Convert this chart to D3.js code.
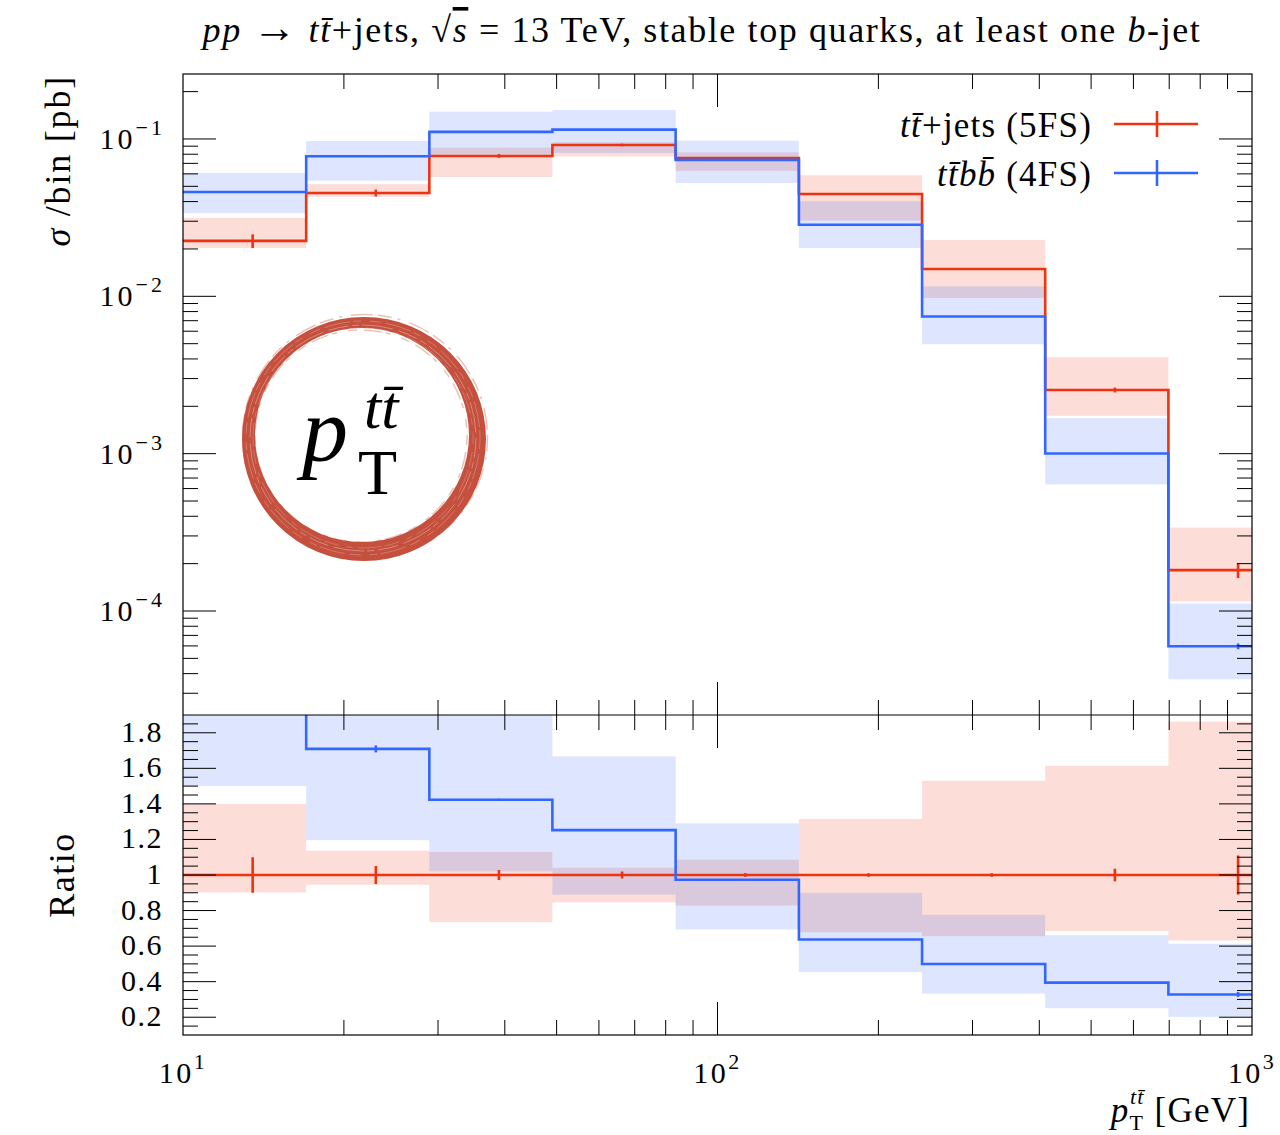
<!DOCTYPE html>
<html lang="en">
<head>
<meta charset="UTF-8" />
<title>ttbar pT: tt+jets (5FS) vs ttbb (4FS)</title>
<script src="https://d3js.org/d3.v7.min.js"></script>
<style>
  body { margin: 0; background: #fff; }
  svg { display: block; font-family: "Liberation Serif", "DejaVu Serif", serif; }
  .frame { fill: none; stroke: #000; stroke-width: 1.2; }
  .tick { stroke: #000; stroke-width: 1; }
</style>
</head>
<body>
<div id="chart"></div>
<script>
// ---------------------------------------------------------------
// Data
// ---------------------------------------------------------------
// bin edges in GeV, last bin runs past the 1 TeV end of the axis
const binEdges = [10, 17, 28.9, 49.1, 83.5, 142, 241.4, 410.3, 697.6, 1185.9];

// tt+jets (5FS), sigma/bin in pb
const ttjVal    = [0.0225, 0.0454, 0.078, 0.0916, 0.0757, 0.0447, 0.0149, 0.00254, 0.000182];
const ttjBandHi = [0.0315, 0.0516, 0.0881, 0.0953, 0.0822, 0.0588, 0.0228, 0.0041, 0.000339];
const ttjBandLo = [0.0203, 0.0429, 0.0573, 0.0775, 0.0627, 0.0303, 0.00977, 0.00174, 0.000115];
const ttjErr    = [0.00225, 0.0023, 0.0022, 0.0018, 0.0008, 0.00045, 0.00015, 0.00009, 0.00002];

// ttbb (4FS)
const ttbbVal    = [0.046, 0.0776, 0.111, 0.1147, 0.0737, 0.0285, 0.00744, 0.001003, 0.0000597];
const ttbbBandHi = [0.0608, 0.0971, 0.149, 0.1527, 0.0977, 0.0402, 0.01156, 0.00168, 0.0001116];
const ttbbBandLo = [0.03375, 0.0543, 0.0796, 0.0815, 0.0525, 0.0203, 0.00496, 0.000638, 0.0000368];
const ttbbErr    = [0.0006, 0.0009, 0.0005, 0.0004, 0.0003, 0.0001, 0.00003, 0.000006, 0.0000025];

// tick labels
const xTickLabels = [[10, "1"], [100, "2"], [1000, "3"]];
const yTickLabels = [[0.1, "\u22121"], [0.01, "\u22122"], [0.001, "\u22123"], [0.0001, "\u22124"]];
const ratioTickLabels = [1.8, 1.6, 1.4, 1.2, 1, 0.8, 0.6, 0.4, 0.2];

// ---------------------------------------------------------------
// Layout
// ---------------------------------------------------------------
const W = 1280, H = 1135;
const left = 183, right = 1252;
const mainTop = 74, mainBottom = 715, ratioBottom = 1035;
const majorLen = 33, minorLen = 15;

const RED = "#EE3311", BLUE = "#3366FF";
const bandOpacity = 0.17;

const x = d3.scaleLog().domain([10, 1000]).range([left, right]);
const y = d3.scaleLog().domain([2.183e-5, 0.2588]).range([mainBottom, mainTop]);
const yr = d3.scaleLinear().domain([0.1, 1.9]).range([ratioBottom, mainBottom]);

const svg = d3.select("#chart").append("svg")
  .attr("width", W).attr("height", H);

const defs = svg.append("defs");
defs.append("clipPath").attr("id", "clip-main")
  .append("rect").attr("x", left).attr("y", mainTop)
  .attr("width", right - left).attr("height", mainBottom - mainTop);
defs.append("clipPath").attr("id", "clip-ratio")
  .append("rect").attr("x", left).attr("y", mainBottom)
  .attr("width", right - left).attr("height", ratioBottom - mainBottom);

const nBins = binEdges.length - 1;
const bins = d3.range(nBins).map(i => ({
  lo: binEdges[i], hi: binEdges[i + 1], mid: (binEdges[i] + binEdges[i + 1]) / 2
}));

function series(val, bandLo, bandHi, err, ref) {
  return bins.map((b, i) => {
    const s = ref ? ref[i] : 1;
    return {
      lo: b.lo, hi: b.hi, mid: b.mid,
      v: val[i] / s, bl: bandLo[i] / s, bh: bandHi[i] / s,
      e1: (val[i] - err[i]) / s, e2: (val[i] + err[i]) / s
    };
  });
}

const seriesList = [
  { color: RED,  val: ttjVal,  lo: ttjBandLo,  hi: ttjBandHi,  err: ttjErr },
  { color: BLUE, val: ttbbVal, lo: ttbbBandLo, hi: ttbbBandHi, err: ttbbErr }
];

// ---------------------------------------------------------------
// Draw one panel (bands, step lines, error ticks)
// ---------------------------------------------------------------
function drawPanel(clipId, ys, ratio) {
  const g = svg.append("g").attr("clip-path", `url(#${clipId})`);
  const data = seriesList.map(s => ({
    color: s.color,
    pts: series(s.val, s.lo, s.hi, s.err, ratio ? ttjVal : null)
  }));

  data.forEach(s => {
    g.selectAll(null).data(s.pts).enter().append("rect")
      .attr("x", d => x(d.lo))
      .attr("width", d => x(d.hi) - x(d.lo))
      .attr("y", d => ys(d.bh))
      .attr("height", d => ys(d.bl) - ys(d.bh))
      .attr("fill", s.color)
      .attr("fill-opacity", bandOpacity);
  });

  data.forEach(s => {
    const stepPts = s.pts.map(d => [d.lo, d.v]);
    stepPts.push([s.pts[nBins - 1].hi, s.pts[nBins - 1].v]);
    const line = d3.line()
      .x(d => x(d[0]))
      .y(d => ys(d[1]))
      .curve(d3.curveStepAfter);
    g.append("path")
      .attr("d", line(stepPts))
      .attr("fill", "none")
      .attr("stroke", s.color)
      .attr("stroke-width", 2.6);

    g.selectAll(null).data(s.pts).enter().append("line")
      .attr("x1", d => x(d.mid)).attr("x2", d => x(d.mid))
      .attr("y1", d => ys(d.e2))
      .attr("y2", d => ys(d.e1))
      .attr("stroke", s.color)
      .attr("stroke-width", 2.6);
  });
}

drawPanel("clip-main", y, false);
drawPanel("clip-ratio", yr, true);

// ---------------------------------------------------------------
// Frames and ticks
// ---------------------------------------------------------------
svg.append("rect").attr("class", "frame")
  .attr("x", left).attr("y", mainTop)
  .attr("width", right - left).attr("height", ratioBottom - mainTop);
svg.append("line").attr("class", "tick")
  .attr("x1", left).attr("x2", right)
  .attr("y1", mainBottom).attr("y2", mainBottom);

const ticksG = svg.append("g");
const isDecade = v => Math.abs(Math.log10(v) - Math.round(Math.log10(v))) < 1e-9;

// x ticks on every horizontal edge, pointing into the panels
const xTicks = x.ticks().filter(v => v > 10 && v < 1000);
[[mainTop, 1], [mainBottom, -1], [mainBottom, 1], [ratioBottom, -1]].forEach(([yy, dir]) => {
  ticksG.selectAll(null).data(xTicks).enter().append("line")
    .attr("class", "tick")
    .attr("x1", d => x(d)).attr("x2", d => x(d))
    .attr("y1", yy).attr("y2", d => yy + dir * (isDecade(d) ? majorLen : minorLen));
});

// main y ticks
const yTicks = y.ticks().filter(v => v > y.domain()[0] && v < y.domain()[1]);
[[left, 1], [right, -1]].forEach(([xx, dir]) => {
  ticksG.selectAll(null).data(yTicks).enter().append("line")
    .attr("class", "tick")
    .attr("y1", d => y(d)).attr("y2", d => y(d))
    .attr("x1", xx).attr("x2", d => xx + dir * (isDecade(d) ? majorLen : minorLen));
});

// ratio y ticks
const rTicks = d3.range(3, 38).map(k => k * 0.05);
const isMajorR = v => Math.abs(v / 0.2 - Math.round(v / 0.2)) < 1e-6;
[[left, 1], [right, -1]].forEach(([xx, dir]) => {
  ticksG.selectAll(null).data(rTicks).enter().append("line")
    .attr("class", "tick")
    .attr("y1", d => yr(d)).attr("y2", d => yr(d))
    .attr("x1", xx).attr("x2", d => xx + dir * (isMajorR(d) ? majorLen : minorLen));
});

// ---------------------------------------------------------------
// Tick labels
// ---------------------------------------------------------------
const xl = svg.append("g").selectAll(null).data(xTickLabels).enter().append("text")
  .attr("x", d => x(d[0])).attr("y", 1083)
  .attr("text-anchor", "middle").attr("font-size", 30)
  .attr("letter-spacing", 2.5);
xl.append("tspan").text("10");
xl.append("tspan").attr("dy", -14).attr("font-size", 22).text(d => d[1]);

const yl = svg.append("g").selectAll(null).data(yTickLabels).enter().append("text")
  .attr("x", 165).attr("y", d => y(d[0]) + 10)
  .attr("text-anchor", "end").attr("font-size", 30)
  .attr("letter-spacing", 3);
yl.append("tspan").text("10");
yl.append("tspan").attr("dy", -14).attr("font-size", 22).text(d => d[1]);

svg.append("g").selectAll(null).data(ratioTickLabels).enter().append("text")
  .attr("x", 163).attr("y", d => yr(d) + 9)
  .attr("text-anchor", "end").attr("font-size", 30)
  .attr("letter-spacing", 1.5)
  .text(d => d === 1 ? "1" : d.toFixed(1));

// ---------------------------------------------------------------
// Titles and axis labels
// ---------------------------------------------------------------
const title = svg.append("text")
  .attr("x", 702).attr("y", 42)
  .attr("text-anchor", "middle").attr("font-size", 36)
  .attr("letter-spacing", 1.6);
title.append("tspan").attr("font-style", "italic").text("pp");
title.append("tspan").text(" ");
title.append("tspan").attr("font-size", 44).text("\u2192");
title.append("tspan").text(" ");
title.append("tspan").attr("font-style", "italic").text("tt\u0304");
title.append("tspan").text("+jets, \u221A");
title.append("tspan").attr("font-style", "italic")
  .style("text-decoration", "overline").text("s");
title.append("tspan").text(" = 13 TeV, stable top quarks, at least one ");
title.append("tspan").attr("font-style", "italic").text("b");
title.append("tspan").text("-jet");

const ylab = svg.append("text")
  .attr("transform", "translate(70,75) rotate(-90)")
  .attr("text-anchor", "end").attr("font-size", 36)
  .attr("letter-spacing", 1.8);
ylab.append("tspan").attr("font-style", "italic").text("\u03C3");
ylab.append("tspan").text(" /bin [pb]");

svg.append("text")
  .attr("transform", `translate(74,${yr(1)}) rotate(-90)`)
  .attr("text-anchor", "middle").attr("font-size", 36)
  .attr("letter-spacing", 1.5)
  .text("Ratio");

const xlab = svg.append("text")
  .attr("x", 1250).attr("y", 1122)
  .attr("text-anchor", "end").attr("font-size", 35)
  .attr("letter-spacing", 1.2);
xlab.append("tspan").attr("font-style", "italic").text("p");
xlab.append("tspan").attr("font-size", 22).attr("dy", 8).text("T");
xlab.append("tspan").attr("font-size", 22).attr("font-style", "italic")
  .attr("dx", -14).attr("dy", -26).text("tt\u0304");
xlab.append("tspan").attr("dy", 18).text(" [GeV]");

// ---------------------------------------------------------------
// Legend
// ---------------------------------------------------------------
const legendItems = [
  { color: RED,  y: 124, label: [["tt\u0304", true], ["+jets (5FS)", false]] },
  { color: BLUE, y: 173, label: [["tt\u0304bb\u0304", true], [" (4FS)", false]] }
];
legendItems.forEach(item => {
  const t = svg.append("text")
    .attr("x", 1092).attr("y", item.y + 13)
    .attr("text-anchor", "end").attr("font-size", 35)
    .attr("letter-spacing", 1.2);
  item.label.forEach(([s, it]) => {
    t.append("tspan").attr("font-style", it ? "italic" : "normal").text(s);
  });
  svg.append("line")
    .attr("x1", 1114).attr("x2", 1198).attr("y1", item.y).attr("y2", item.y)
    .attr("stroke", item.color).attr("stroke-width", 2.6);
  svg.append("line")
    .attr("x1", 1157).attr("x2", 1157).attr("y1", item.y - 13).attr("y2", item.y + 13)
    .attr("stroke", item.color).attr("stroke-width", 2.6);
});

// ---------------------------------------------------------------
// Observable badge (brush-stroke ring)
// ---------------------------------------------------------------
const badge = svg.append("g");
const RING = "#C5503D";
const ringPath = d3.path();
ringPath.arc(364, 439, 122, 0, 2 * Math.PI);
ringPath.moveTo(362 + 107, 435);
ringPath.arc(362, 435, 107, 0, 2 * Math.PI);
badge.append("path").attr("d", ringPath.toString())
  .attr("fill", RING).attr("fill-rule", "evenodd");
badge.append("circle").attr("cx", 365).attr("cy", 437).attr("r", 122.5)
  .attr("fill", "none").attr("stroke", RING).attr("stroke-width", 1.5)
  .attr("stroke-dasharray", "14 6 3 9 22 5").attr("opacity", 0.35);
badge.append("circle").attr("cx", 361).attr("cy", 436).attr("r", 106)
  .attr("fill", "none").attr("stroke", RING).attr("stroke-width", 1.5)
  .attr("stroke-dasharray", "9 7 18 4 5 11").attr("opacity", 0.35);
[[113, "20 4 7 3 31 6", 0.8], [117, "11 5 26 3 8 9", 0.6], [110, "6 8 15 3 24 5", 0.5]]
  .forEach(([r, dash, w]) => {
    badge.append("circle").attr("cx", 363).attr("cy", 438).attr("r", r)
      .attr("fill", "none").attr("stroke", "#fff").attr("stroke-width", w)
      .attr("stroke-dasharray", dash).attr("opacity", 0.4);
  });

badge.append("text").attr("x", 302).attr("y", 461)
  .attr("font-size", 92).attr("font-style", "italic").text("p");
badge.append("text").attr("x", 358).attr("y", 494)
  .attr("font-size", 64).text("T");
badge.append("text").attr("x", 364).attr("y", 428)
  .attr("font-size", 62).attr("font-style", "italic").text("tt\u0304");
</script>
</body>
</html>
